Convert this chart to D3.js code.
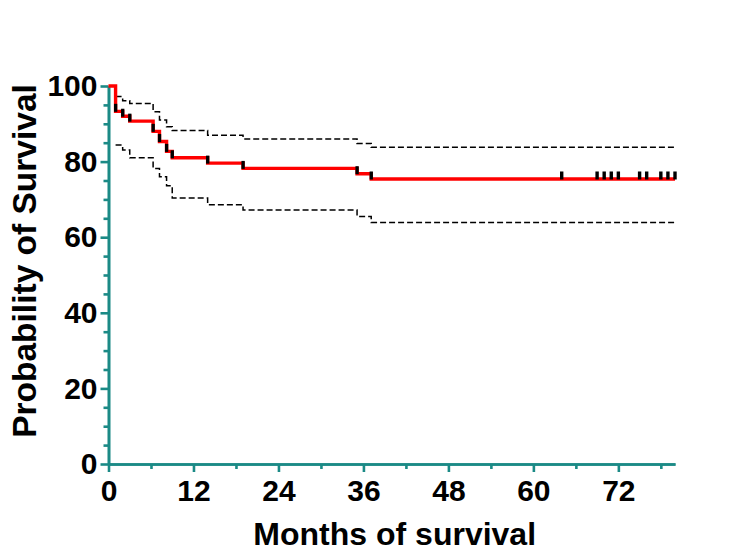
<!DOCTYPE html>
<html>
<head>
<meta charset="utf-8">
<script src="https://cdn.jsdelivr.net/npm/d3@7/dist/d3.min.js"></script>
<style>
  html, body { margin: 0; padding: 0; background: #fff; }
  svg { display: block; }
  text { font-family: "Liberation Sans", Arial, sans-serif; font-weight: bold; fill: #000; }
</style>
</head>
<body>
<svg id="chart" width="750" height="560"></svg>
<script>
// ---- Data ----
const eventTimes    = [1, 2, 3, 6.3, 7.2, 8.2, 9, 14, 19, 35.1, 37.1];
const survival      = [93.3, 92.0, 90.7, 88.0, 85.3, 82.7, 81.0, 79.6, 78.2, 76.8, 75.4];
const upperCI       = [97.2, 96.1, 95.4, 93.2, 91.0, 89.2, 88.2, 87.0, 86.0, 84.8, 83.8];
const lowerCI       = [84.4, 83.1, 81.0, 78.2, 76.0, 73.6, 70.4, 68.6, 67.2, 65.5, 63.9];
const censorTimes   = [64, 69, 70, 71, 72, 75, 76, 78, 79, 80];
const endTime       = 80;
const xMajorTicks   = [0, 12, 24, 36, 48, 60, 72];
const xMinorTicks   = [6, 18, 30, 42, 54, 66, 78];
const yMajorTicks   = [0, 20, 40, 60, 80, 100];
const yMinorTicks   = [5, 10, 15, 25, 30, 35, 45, 50, 55, 65, 70, 75, 85, 90, 95];
const xTitle = "Months of survival";
const yTitle = "Probability of Survival";

// ---- Layout ----
const svg = d3.select("#chart");
const axisColor = "#1b8a86";
const tickFontSize = 30;
const x = d3.scaleLinear().domain([0, 80]).range([108.5, 675]);
const y = d3.scaleLinear().domain([0, 100]).range([464, 86]);

// ---- Axes ----
function styleAxis(g) {
  g.attr("font-size", tickFontSize).attr("font-family", "Liberation Sans, Arial, sans-serif");
  g.selectAll("path.domain").attr("stroke", axisColor).attr("stroke-width", 2.6);
  g.selectAll(".tick line").attr("stroke", axisColor).attr("stroke-width", 2.6);
  g.selectAll(".tick text")
    .attr("fill", "#000")
    .attr("font-size", tickFontSize)
    .attr("font-weight", "bold")
    .style("font-size", tickFontSize + "px");
}

// x minor
svg.append("g")
  .attr("transform", `translate(0,${y(0)})`)
  .call(d3.axisBottom(x).tickValues(xMinorTicks).tickSize(5).tickSizeOuter(0).tickFormat(""))
  .call(styleAxis);
// x major
svg.append("g")
  .attr("transform", `translate(0,${y(0)})`)
  .call(d3.axisBottom(x).tickValues(xMajorTicks).tickSize(8).tickPadding(8).tickSizeOuter(0).tickFormat(d3.format("d")))
  .call(styleAxis);
// y minor
svg.append("g")
  .attr("transform", `translate(${x(0)},0)`)
  .call(d3.axisLeft(y).tickValues(yMinorTicks).tickSize(5).tickSizeOuter(0).tickFormat(""))
  .call(styleAxis);
// y major
svg.append("g")
  .attr("transform", `translate(${x(0)},0)`)
  .call(d3.axisLeft(y).tickValues(yMajorTicks).tickSize(8).tickPadding(3).tickSizeOuter(0).tickFormat(d3.format("d")))
  .call(styleAxis);

// ---- Curves ----
const stepLine = d3.line().x(d => x(d[0])).y(d => y(d[1])).curve(d3.curveStepAfter);

function ciPoints(vals) {
  const pts = eventTimes.map((t, i) => [t, vals[i]]);
  pts.push([endTime, vals[vals.length - 1]]);
  return pts;
}

svg.append("path")
  .attr("d", stepLine(ciPoints(upperCI)))
  .attr("fill", "none").attr("stroke", "#000").attr("stroke-width", 1.5)
  .attr("stroke-dasharray", "6,3");
svg.append("path")
  .attr("d", stepLine(ciPoints(lowerCI)))
  .attr("fill", "none").attr("stroke", "#000").attr("stroke-width", 1.5)
  .attr("stroke-dasharray", "6,3");

const kmPts = [[0, 100]].concat(eventTimes.map((t, i) => [t, survival[i]]));
kmPts.push([endTime, survival[survival.length - 1]]);
svg.append("path")
  .attr("d", stepLine(kmPts))
  .attr("fill", "none").attr("stroke", "#ff0000").attr("stroke-width", 3.4);

// marks at drops
svg.append("g").selectAll("rect.ev")
  .data(eventTimes.map((t, i) => [t, survival[i]]))
  .join("rect")
  .attr("x", d => x(d[0]) - 1.6)
  .attr("y", d => y(d[1]) - 7.5)
  .attr("width", 3.3)
  .attr("height", 8)
  .attr("fill", "#000");

// censor marks
const lastS = survival[survival.length - 1];
svg.append("g").selectAll("rect.cen")
  .data(censorTimes)
  .join("rect")
  .attr("x", d => x(d) - 1.7)
  .attr("y", y(lastS) - 7.5)
  .attr("width", 3.4)
  .attr("height", 8)
  .attr("fill", "#000");

// ---- Titles ----
svg.append("text")
  .attr("x", 394.7).attr("y", 545)
  .attr("text-anchor", "middle")
  .style("font-size", "32px")
  .text(xTitle);

svg.append("text")
  .attr("transform", "translate(36,261) rotate(-90)")
  .attr("text-anchor", "middle")
  .style("font-size", "33.5px")
  .text(yTitle);
</script>
</body>
</html>
